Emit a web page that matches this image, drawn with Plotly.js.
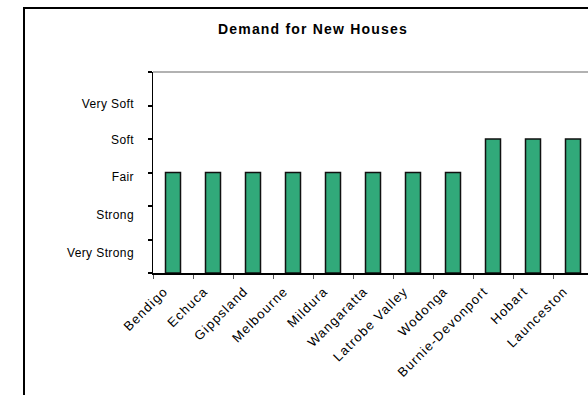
<!DOCTYPE html>
<html>
<head>
<meta charset="utf-8">
<script src="https://cdn.plot.ly/plotly-3.0.1.min.js"></script>
<style>
  html, body { margin:0; padding:0; background:#fff; overflow:hidden; width:588px; height:395px; }
  #chart { position:absolute; left:0; top:0; width:620px; height:420px; }
  #frame { position:absolute; left:23px; top:7px; width:578px; height:500px; border:2px solid #000; pointer-events:none; }
  .xtick text { letter-spacing: 1.2px; }
  .y2tick text { letter-spacing: 0.4px; }
  .gtitle { letter-spacing: 1.2px; }
</style>
</head>
<body>
<div id="chart"></div>
<div id="frame"></div>
<script>
// Data
const regions = ["Bendigo","Echuca","Gippsland","Melbourne","Mildura","Wangaratta","Latrobe Valley","Wodonga","Burnie-Devonport","Hobart","Launceston"];
const demandLevel = [3,3,3,3,3,3,3,3,4,4,4];   // 1=Very Strong ... 5=Very Soft
const levelValues = [1,2,3,4,5];
const levelLabels = ["Very Strong","Strong","Fair","Soft","Very Soft"];

// layout-only nudges of label positions (as drawn in the reference)
const labelNudge = [-0.4,-0.27,-0.13,-0.03,0.04];
const labelPos = levelValues.map((v,i)=>v+labelNudge[i]);

const trace = {
  type:'bar', x: regions, y: demandLevel, yaxis:'y',
  marker:{color:'#31a97a', line:{color:'#111', width:1.5}},
  hoverinfo:'none'
};
// invisible helper so the label axis is drawn
const helper = {
  type:'scatter', mode:'markers', x:[regions[0]], y:[levelValues[0]], yaxis:'y2',
  marker:{opacity:0, size:1}, hoverinfo:'none'
};

const layout = {
  width:620, height:420,
  margin:{l:153, r:27, t:72, b:147},
  paper_bgcolor:'#fff', plot_bgcolor:'#fff',
  showlegend:false,
  bargap:0.625,
  font:{family:'"Liberation Sans", Arial, sans-serif', color:'#000', size:12},
  title:{text:'<b>Demand for New Houses</b>', font:{size:14, color:'#000'},
         x:313/620, xanchor:'center', xref:'container', y:1-29/420, yanchor:'middle', yref:'container'},
  xaxis:{type:'category', range:[-0.5,10.5], showline:true, linecolor:'#000', linewidth:1.5,
         ticks:'outside', tickson:'boundaries', ticklen:4, tickcolor:'#555', tickwidth:1,
         tickangle:-45, tickfont:{size:13}, ticklabelstandoff:4, ticklabelshift:-9,
         showgrid:false, zeroline:false, fixedrange:true},
  yaxis:{range:[0,6], tickvals:[0,1,2,3,4,5,6], showticklabels:false, ticks:'outside', ticklen:4,
         tickwidth:2, tickcolor:'#000', showline:true, linecolor:'#000', linewidth:1.5,
         showgrid:false, zeroline:false, fixedrange:true},
  yaxis2:{overlaying:'y', side:'left', range:[0,6], tickvals:labelPos, ticktext:levelLabels,
          ticks:'', showline:false, showgrid:false, zeroline:false, tickfont:{size:12},
          ticklabelstandoff:18, fixedrange:true},
  shapes:[
    {type:'line', xref:'paper', yref:'paper', x0:0, x1:1, y0:1, y1:1, line:{color:'#999', width:1.5}},
    {type:'line', xref:'paper', yref:'paper', x0:1, x1:1, y0:0, y1:1, line:{color:'#999', width:1.5}}
  ]
};

Plotly.newPlot('chart', [trace, helper], layout, {staticPlot:true, displayModeBar:false});
</script>
</body>
</html>
